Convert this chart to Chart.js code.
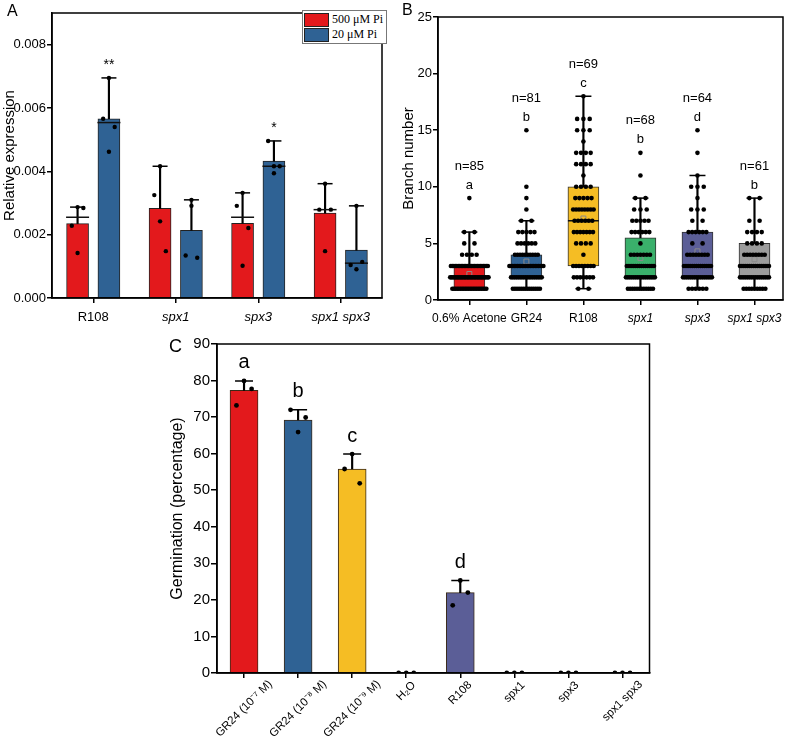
<!DOCTYPE html>
<html>
<head>
<meta charset="utf-8">
<script src="https://cdn.jsdelivr.net/npm/chart.js@4.4.1/dist/chart.umd.min.js"></script>
<style>
  body { margin: 0; background: #fff; }
  #page { position: relative; width: 800px; height: 741px; overflow: hidden; font-family: 'Liberation Sans', Arial, sans-serif; }
  canvas { position: absolute; }
  .tag { position: absolute; color: #000; font-size: 16px; line-height: 16px; }
  #legendA { position: absolute; left: 302px; top: 10px; width: 81px; border: 1px solid #777; padding: 1px; background: #fff;
    font-family: 'Liberation Serif', 'Times New Roman', serif; font-size: 12px; white-space: nowrap; }
  #legendA div { display: flex; align-items: center; height: 15px; }
  #legendA .sw { width: 25px; height: 14px; border: 1px solid #222; margin-right: 3px; box-sizing: border-box; flex: none; }
</style>
</head>
<body>
<div id="page">
  <canvas id="chartA" width="395" height="335" style="left:0;top:0;width:395px;height:335px"></canvas>
  <canvas id="chartB" width="405" height="335" style="left:395px;top:0;width:405px;height:335px"></canvas>
  <canvas id="chartC" width="500" height="411" style="left:160px;top:330px;width:500px;height:411px"></canvas>
  <div class="tag" style="left:7px;top:3px">A</div>
  <div class="tag" style="left:402px;top:2px">B</div>
  <div class="tag" style="left:169px;top:337px;font-size:18px;line-height:18px">C</div>
  <div id="legendA">
    <div><span class="sw" style="background:#e3191c"></span>500 μM Pi</div>
    <div><span class="sw" style="background:#2f6294"></span>20 μM Pi</div>
  </div>
</div>
<script>
const FONT = "'Liberation Sans', Arial, sans-serif"

// panel A - relative expression, two Pi levels
const genotypesA = ['R108', 'spx1', 'spx3', 'spx1 spx3']
const highPiMean = [0.00235, 0.00283, 0.00236, 0.00268]
const highPiErr = [0.00287, 0.00416, 0.00332, 0.00361]
const highPiLine = [0.00255, null, 0.00255, 0.00279]
const highPiReps = [
  [0.00287, 0.00228, 0.00142, 0.00284],
  [0.00416, 0.00325, 0.00242, 0.00148],
  [0.00332, 0.00291, 0.00102, 0.00221],
  [0.00361, 0.00279, 0.00148, 0.00279]
]
const lowPiMean = [0.00566, 0.00214, 0.00432, 0.00151]
const lowPiErr = [0.00695, 0.0031, 0.00496, 0.00291]
const lowPiLine = [0.00554, null, 0.00416, 0.0011]
const lowPiReps = [
  [0.00695, 0.00566, 0.00462, 0.0054],
  [0.0031, 0.00134, 0.00291, 0.00127],
  [0.00416, 0.00496, 0.00394, 0.00416],
  [0.00291, 0.00104, 0.00091, 0.00114]
]
const lowPiStars = ['**', '', '*', '']
const yTicksA = [0, 0.002, 0.004, 0.006, 0.008]

// panel B - branch number box plots
const treatmentsB = ['0.6% Acetone', 'GR24', 'R108', 'spx1', 'spx3', 'spx1 spx3']
const boxColorsB = ['#e3191c', '#2f6294', '#f5bd24', '#3ab06b', '#5b5e97', '#9c9c9c']
const boxQ1 = [1, 2, 3, 2, 2, 2]
const boxMedian = [2, 3, 7, 3, 3, 3]
const boxQ3 = [3, 4, 10, 5.5, 6, 5]
const whiskerLow = [1, 1, 1, 1, 1, 1]
const whiskerHigh = [6, 7, 18, 9, 11, 9]
const boxMean = [2.3, 3.4, 7.2, 3.7, 4.3, 3.6]
const sampleSizeB = ['n=85', 'n=81', 'n=69', 'n=68', 'n=64', 'n=61']
const groupLetterB = ['a', 'b', 'c', 'b', 'd', 'b']
const branchLevels = [1, 2, 3, 4, 5, 6, 7, 8, 9, 10, 11, 12, 13, 14, 15, 16, 17, 18]
const branchCounts = [
  [22, 28, 26, 4, 2, 2, 0, 0, 1, 0, 0, 0, 0, 0, 0, 0, 0, 0],
  [14, 18, 22, 10, 6, 5, 2, 1, 1, 1, 0, 0, 0, 0, 1, 0, 0, 0],
  [2, 7, 8, 1, 4, 7, 6, 8, 5, 4, 1, 4, 4, 1, 3, 3, 0, 1],
  [12, 16, 14, 7, 1, 6, 5, 3, 2, 0, 1, 0, 1, 0, 0, 0, 0, 0],
  [6, 16, 14, 8, 2, 6, 2, 3, 1, 3, 1, 0, 1, 0, 1, 0, 0, 0],
  [9, 16, 16, 8, 4, 4, 2, 0, 2, 0, 0, 0, 0, 0, 0, 0, 0, 0]
]

// panel C - germination
const treatmentsC = ['GR24 (10⁻⁷ M)', 'GR24 (10⁻⁸ M)', 'GR24 (10⁻⁹ M)', 'H₂O', 'R108', 'spx1', 'spx3', 'spx1 spx3']
const barColorsC = ['#e3191c', '#2f6294', '#f5bd24', '#e3191c', '#5b5e97', '#e3191c', '#e3191c', '#e3191c']
const germMean = [77.3, 69.2, 55.8, 0, 22.0, 0, 0, 0]
const germTop = [79.9, 72.0, 59.9, 0, 25.3, 0, 0, 0]
const germRepLeft = [73.2, 72.0, 55.8, 0, 18.5, 0, 0, 0]
const germRepMid = [79.9, 65.9, 59.9, 0, 25.3, 0, 0, 0]
const germRepRight = [77.7, 69.9, 51.9, 0, 22.0, 0, 0, 0]
const groupLetterC = ['a', 'b', 'c', '', 'd', '', '', '']

const italicNames = ['spx1', 'spx3', 'spx1 spx3']

Chart.defaults.font.family = FONT
Chart.defaults.color = '#000'
Chart.defaults.animation = false
Chart.defaults.events = []
Chart.defaults.plugins.legend.display = false
Chart.defaults.plugins.tooltip.enabled = false

Chart.register({
  id: 'frame',
  afterDraw (chart) {
    const { ctx, chartArea: a } = chart
    ctx.save()
    ctx.strokeStyle = '#000'
    ctx.lineWidth = 1.5
    ctx.strokeRect(a.left, a.top, a.right - a.left, a.bottom - a.top)
    ctx.restore()
  }
})

const grid = len => ({ drawOnChartArea: false, offset: false, color: '#000', lineWidth: 1.5, tickLength: len })
const border = { color: '#000', width: 1.5 }

function categoryAxis (labels, min, max, height, size, pad) {
  return {
    type: 'linear',
    min,
    max,
    offset: false,
    grid: grid(5),
    border,
    afterBuildTicks: s => { s.ticks = labels.map((l, i) => ({ value: i })) },
    afterFit: s => { s.height = height },
    ticks: {
      autoSkip: false,
      maxRotation: 0,
      minRotation: 0,
      padding: pad,
      color: '#000',
      callback: v => labels[v],
      font: ctx => ({ size, style: italicNames.includes(labels[ctx.index]) ? 'italic' : 'normal' })
    }
  }
}

function dots (data, radius) {
  return { type: 'scatter', data, order: 0, pointStyle: 'circle', pointRadius: radius, pointBackgroundColor: '#000', pointBorderWidth: 0 }
}
function dashes (data, radius, width, color, order) {
  return { type: 'scatter', data, order, pointStyle: 'line', pointRadius: radius, pointBorderColor: color, pointBorderWidth: width }
}
function stems (data) {
  return { type: 'bar', data, order: 2, grouped: false, barThickness: 1.5, backgroundColor: '#000', borderWidth: 0 }
}

// ---- A
const shiftA = 0.19
const jitterA = [0, -0.07, 0, 0.07]
function repPoints (groups, offset) {
  const out = []
  groups.forEach((reps, i) => reps.forEach((v, j) => out.push({ x: i + offset + jitterA[j], y: v })))
  return out
}
const at = (vals, offset) => vals.map((v, i) => (v === null ? null : { x: i + offset, y: v })).filter(Boolean)

new Chart(document.getElementById('chartA'), {
  type: 'bar',
  data: {
    datasets: [
      dots(repPoints(highPiReps, -shiftA), 2.2),
      dots(repPoints(lowPiReps, shiftA), 2.2),
      dashes(at(highPiErr, -shiftA), 7.5, 1.5, '#000', 1),
      dashes(at(lowPiErr, shiftA), 7.5, 1.5, '#000', 1),
      dashes(at(highPiLine, -shiftA), 11.5, 1.5, '#111', 1),
      dashes(at(lowPiLine, shiftA), 11.5, 1.5, '#111', 1),
      stems(highPiMean.map((m, i) => ({ x: i - shiftA, y: [m, highPiErr[i]] }))),
      stems(lowPiMean.map((m, i) => ({ x: i + shiftA, y: [m, lowPiErr[i]] }))),
      { type: 'bar', order: 3, grouped: false, barThickness: 22, backgroundColor: '#e3191c', borderColor: '#222', borderWidth: 1,
        data: at(highPiMean, -shiftA) },
      { type: 'bar', order: 3, grouped: false, barThickness: 22, backgroundColor: '#2f6294', borderColor: '#222', borderWidth: 1,
        data: at(lowPiMean, shiftA) }
    ]
  },
  options: {
    responsive: false,
    layout: { padding: { top: 6, right: 8, left: 0, bottom: 0 } },
    scales: {
      x: categoryAxis(genotypesA, -0.5, 3.5, 37, 13, 7),
      y: {
        min: 0,
        max: 0.009,
        grid: grid(5),
        border,
        afterBuildTicks: s => { s.ticks = yTicksA.map(v => ({ value: v })) },
        afterFit: s => { s.width = 52 },
        ticks: { padding: 1, font: { size: 13 }, callback: v => v.toFixed(3) },
        title: { display: true, text: 'Relative expression', font: { size: 15 }, padding: { top: 1, bottom: 0 } }
      }
    }
  },
  plugins: [{
    id: 'stars',
    afterDatasetsDraw (chart) {
      const { ctx, scales: { x, y } } = chart
      ctx.save()
      ctx.font = `14px ${FONT}`
      ctx.textAlign = 'center'
      ctx.textBaseline = 'middle'
      lowPiStars.forEach((s, i) => {
        if (s) ctx.fillText(s, x.getPixelForValue(i + shiftA), y.getPixelForValue(lowPiErr[i]) - 13)
      })
      ctx.restore()
    }
  }]
})

// ---- B
const swarm = []
branchCounts.forEach((counts, g) => {
  counts.forEach((c, k) => {
    const w = c > 1 ? Math.min(7.5 * Math.sqrt(c), 40) / 59 : 0
    for (let j = 0; j < c; j++) {
      swarm.push({ x: g + (c > 1 ? -w / 2 + (w * j) / (c - 1) : 0), y: branchLevels[k] })
    }
  })
})
const idx = arr => arr.map((v, i) => ({ x: i, y: v }))

new Chart(document.getElementById('chartB'), {
  type: 'bar',
  data: {
    datasets: [
      dots(swarm, 2.3),
      { type: 'scatter', order: 1, data: idx(boxMean), pointStyle: 'rect', pointRadius: 3.5,
        pointBorderColor: '#8a8a8a', pointBorderWidth: 1, pointBackgroundColor: 'rgba(0,0,0,0)' },
      dashes(idx(boxMedian), 15.5, 1.5, '#111', 1),
      dashes(idx(whiskerLow), 8, 1.5, '#000', 1),
      dashes(idx(whiskerHigh), 8, 1.5, '#000', 1),
      stems(whiskerLow.map((v, i) => ({ x: i, y: [v, boxQ1[i]] }))),
      stems(whiskerHigh.map((v, i) => ({ x: i, y: [boxQ3[i], v] }))),
      { type: 'bar', order: 3, grouped: false, barThickness: 31, backgroundColor: boxColorsB, borderColor: '#333',
        borderWidth: 1, borderSkipped: false, data: boxQ1.map((q, i) => ({ x: i, y: [q, boxQ3[i]] })) }
    ]
  },
  options: {
    responsive: false,
    layout: { padding: { top: 10, right: 5, left: 0, bottom: 0 } },
    scales: {
      x: categoryAxis(treatmentsB, -0.55, 5.5, 35, 12, 6),
      y: {
        min: 0,
        max: 25,
        grid: grid(5),
        border,
        afterFit: s => { s.width = 43 },
        ticks: { stepSize: 5, padding: 1, font: { size: 13 } },
        title: { display: true, text: 'Branch number', font: { size: 15 }, padding: { top: 5, bottom: 0 } }
      }
    }
  },
  plugins: [{
    id: 'groupNotes',
    afterDatasetsDraw (chart) {
      const { ctx, scales: { x, y } } = chart
      ctx.save()
      ctx.font = `13px ${FONT}`
      ctx.textAlign = 'center'
      ctx.textBaseline = 'middle'
      branchCounts.forEach((counts, g) => {
        let top = 0
        counts.forEach((c, k) => { if (c > 0) top = branchLevels[k] })
        const px = x.getPixelForValue(g)
        const py = y.getPixelForValue(top)
        ctx.fillText(groupLetterB[g], px, py - 13)
        ctx.fillText(sampleSizeB[g], px, py - 32)
      })
      ctx.restore()
    }
  }]
})

// ---- C
const jitterC = [-0.14, 0, 0.14]
const repsC = []
;[germRepLeft, germRepMid, germRepRight].forEach((reps, j) => {
  reps.forEach((v, i) => repsC.push({ x: i + jitterC[j], y: v }))
})
const spread = germMean.map((m, i) => ({ i, m, t: germTop[i] })).filter(d => d.t > d.m)

new Chart(document.getElementById('chartC'), {
  type: 'bar',
  data: {
    datasets: [
      dots(repsC, 2.4),
      dashes(spread.map(d => ({ x: d.i, y: d.t })), 9, 1.5, '#000', 1),
      stems(spread.map(d => ({ x: d.i, y: [d.m, d.t] }))),
      { type: 'bar', order: 3, grouped: false, barThickness: 28, backgroundColor: barColorsC, borderColor: '#3a2a18',
        borderWidth: 1, data: idx(germMean) }
    ]
  },
  options: {
    responsive: false,
    layout: { padding: { top: 14, right: 8, left: 0, bottom: 0 } },
    scales: {
      x: Object.assign(categoryAxis(treatmentsC, -0.5, 7.5, 68, 12, 2), { ticks: { display: false } }),
      y: {
        min: 0,
        max: 90,
        grid: grid(6),
        border,
        afterFit: s => { s.width = 57 },
        ticks: { stepSize: 10, padding: 1, font: { size: 15 } },
        title: { display: true, text: 'Germination (percentage)', font: { size: 16 }, padding: { top: 8, bottom: 0 } }
      }
    }
  },
  plugins: [{
    id: 'labelsC',
    afterDraw (chart) {
      const { ctx, scales: { x, y }, chartArea } = chart
      ctx.save()
      ctx.fillStyle = '#000'
      ctx.textAlign = 'center'
      ctx.textBaseline = 'middle'
      ctx.font = `20px ${FONT}`
      groupLetterC.forEach((l, i) => {
        if (l) ctx.fillText(l, x.getPixelForValue(i), y.getPixelForValue(germTop[i]) - 18)
      })
      ctx.font = `11.5px ${FONT}`
      treatmentsC.forEach((t, i) => {
        const w = ctx.measureText(t).width
        ctx.save()
        ctx.translate(x.getPixelForValue(i), chartArea.bottom + 7 + (w + 12) * 0.33)
        ctx.rotate(-Math.PI / 4)
        ctx.fillText(t, 0, 0)
        ctx.restore()
      })
      ctx.restore()
    }
  }]
})
</script>
</body>
</html>
